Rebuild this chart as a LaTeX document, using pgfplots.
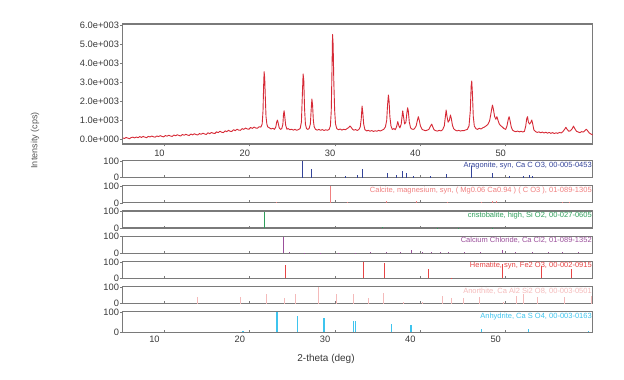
\documentclass[border=0pt]{standalone}
\usepackage{fontspec}
\setmainfont{Liberation Sans}
\usepackage{pgfplots}
\pgfplotsset{compat=1.18}

\definecolor{framec}{HTML}{7A7A7A}
\definecolor{tickc}{HTML}{383838}
\definecolor{xrd}{HTML}{D62A36}
\definecolor{arag}{HTML}{34449A}
\definecolor{calc}{HTML}{F08080}
\definecolor{cris}{HTML}{2E9E5A}
\definecolor{cacl}{HTML}{9B4F9B}
\definecolor{hema}{HTML}{E64545}
\definecolor{anor}{HTML}{F4BABA}
\definecolor{anhy}{HTML}{3EC4EE}

\tikzset{plab/.style={anchor=north east, inner sep=0.8pt, font=\fontsize{7.5}{8}\selectfont}}
\pgfplotsset{
 base/.style={scale only axis, anchor=south west, width=470pt,
   axis line style={framec, line width=1.2pt},
   xmin=5.1, xmax=60.2, xtick={10,20,30,40,50},
   tick style={framec, line width=0.6pt}, major tick length=2.5pt, tick align=outside,
   ticklabel style={font=\fontsize{9.3}{10}\selectfont, text=tickc},
   /pgf/number format/assume math mode=true,
   xtick pos=bottom, ytick pos=left},
 panel/.style={base, ymin=0, ymax=103, ytick={0,100}, xticklabels={}, height=17pt,
   xtick align=inside, yticklabel style={inner sep=1pt}},
 stick/.style={ycomb, line width=1pt, mark=none},
}

\begin{document}
\begin{tikzpicture}
\path[use as bounding box] (0pt,0pt) rectangle (624pt,380pt);

% ---------- measured pattern ----------
\begin{axis}[base, at={(122.7pt,236pt)}, height=120pt,
  ymin=-250, ymax=6070, ytick={0,1000,2000,3000,4000,5000,6000},
  yticklabels={0.0e+000,1.0e+003,2.0e+003,3.0e+003,4.0e+003,5.0e+003,6.0e+003},
  yticklabel style={inner sep=1pt}, xticklabel style={xshift=-5pt}]
\addplot[xrd, line width=0.9pt, mark=none, line join=round] coordinates {
(5.1,70)(5.3,40)(5.5,95)(5.7,60)(5.9,30)(6.1,90)(6.3,110)(6.5,70)(6.7,120)(6.9,80)
(7.1,140)(7.3,95)(7.5,150)(7.7,110)(7.9,85)(8.1,150)(8.3,120)(8.5,170)(8.7,130)(8.9,110)
(9.1,175)(9.3,140)(9.5,190)(9.7,150)(9.9,125)(10.1,195)(10.3,160)(10.5,210)(10.7,170)(10.9,150)
(11.1,220)(11.3,180)(11.5,235)(11.7,200)(11.9,170)(12.1,250)(12.3,210)(12.5,260)(12.7,220)(12.9,200)
(13.1,275)(13.3,230)(13.5,290)(13.7,245)(13.9,225)(14.1,300)(14.3,260)(14.5,320)(14.7,280)(14.9,250)
(15.1,340)(15.3,290)(15.5,360)(15.7,320)(15.9,300)(16.1,390)(16.3,350)(16.5,420)(16.7,370)(16.9,350)
(17.1,440)(17.3,400)(17.5,470)(17.7,420)(17.9,410)(18.1,500)(18.3,450)(18.5,530)(18.7,480)(18.9,470)
(19.1,560)(19.3,520)(19.5,590)(19.7,540)(19.9,530)(20.1,620)(20.3,570)(20.5,640)(20.7,590)(20.9,580)
(21.1,660)(21.3,640)(21.45,800)(21.55,1500)(21.62,2800)(21.68,3560)(21.75,3200)(21.82,2200)(21.9,1200)(22.0,800)
(22.1,650)(22.3,600)(22.5,540)(22.7,580)(22.9,520)(23.05,650)(23.15,900)(23.24,1010)(23.33,850)(23.45,600)
(23.6,520)(23.75,560)(23.88,800)(23.95,1300)(24.02,1500)(24.1,1200)(24.2,750)(24.35,530)(24.5,560)(24.7,500)
(24.9,530)(25.1,480)(25.3,520)(25.5,470)(25.7,510)(25.9,560)(26.05,900)(26.15,2200)(26.25,3440)(26.33,3100)
(26.42,1600)(26.52,800)(26.65,560)(26.8,520)(26.95,560)(27.1,800)(27.2,1600)(27.28,2120)(27.36,1800)(27.45,1000)
(27.55,650)(27.7,520)(27.9,480)(28.1,520)(28.3,470)(28.5,510)(28.7,460)(28.9,500)(29.1,470)(29.3,520)
(29.45,700)(29.55,1500)(29.63,3500)(29.7,5520)(29.77,5000)(29.85,3000)(29.95,1500)(30.05,800)(30.2,560)(30.4,500)
(30.6,540)(30.8,480)(31.0,530)(31.2,500)(31.4,560)(31.6,620)(31.75,700)(31.9,620)(32.05,520)(32.2,480)
(32.4,510)(32.6,460)(32.8,520)(32.95,650)(33.07,1100)(33.16,1750)(33.25,1400)(33.35,800)(33.5,500)(33.7,440)
(33.9,470)(34.1,420)(34.3,460)(34.5,410)(34.7,450)(34.9,420)(35.1,470)(35.3,430)(35.5,480)(35.7,520)
(35.9,650)(36.05,1000)(36.15,1800)(36.25,2330)(36.33,2000)(36.42,1200)(36.55,700)(36.7,520)(36.9,560)(37.05,500)
(37.2,650)(37.35,930)(37.48,700)(37.6,600)(37.75,800)(37.85,1200)(37.93,1500)(38.02,1200)(38.15,800)(38.3,900)
(38.42,1400)(38.5,1660)(38.58,1500)(38.7,900)(38.85,600)(39.0,540)(39.15,520)(39.3,550)(39.5,700)(39.65,1000)
(39.76,1190)(39.87,1000)(40.0,700)(40.2,520)(40.4,480)(40.6,450)(40.8,480)(41.0,520)(41.2,700)(41.33,800)
(41.45,650)(41.6,500)(41.8,450)(42.0,430)(42.2,470)(42.4,440)(42.6,500)(42.8,700)(42.93,1200)(43.02,1540)
(43.12,1200)(43.25,900)(43.4,1000)(43.52,1280)(43.62,1100)(43.75,750)(43.9,550)(44.1,480)(44.3,440)(44.5,470)
(44.7,430)(44.9,460)(45.1,450)(45.3,490)(45.5,520)(45.7,700)(45.85,1500)(45.95,2800)(46.02,3070)(46.1,2400)
(46.2,1200)(46.32,700)(46.5,560)(46.7,520)(46.9,580)(47.1,540)(47.3,600)(47.5,640)(47.7,700)(47.9,780)
(48.1,950)(48.25,1300)(48.38,1650)(48.45,1800)(48.55,1600)(48.7,1200)(48.85,1050)(48.97,1190)(49.1,1000)(49.25,800)
(49.4,720)(49.6,650)(49.8,560)(50.0,520)(50.15,700)(50.3,1050)(50.4,1190)(50.5,1000)(50.65,650)(50.8,480)
(51.0,420)(51.2,400)(51.4,430)(51.6,390)(51.8,420)(52.0,380)(52.2,420)(52.35,700)(52.47,1100)(52.56,1190)
(52.66,900)(52.8,800)(52.95,900)(53.06,1015)(53.17,800)(53.3,500)(53.5,400)(53.7,360)(53.9,390)(54.1,340)
(54.3,380)(54.5,330)(54.7,370)(54.9,320)(55.1,360)(55.3,310)(55.5,350)(55.7,300)(55.9,340)(56.1,310)
(56.3,360)(56.5,330)(56.7,400)(56.9,520)(57.06,630)(57.2,520)(57.4,420)(57.6,450)(57.8,560)(57.95,690)
(58.1,560)(58.3,420)(58.5,380)(58.7,350)(58.9,400)(59.1,380)(59.3,460)(59.45,525)(59.6,450)(59.8,330)
(60.0,270)(60.2,226)
};
\end{axis}

% ---------- reference patterns ----------
\begin{axis}[panel, at={(122.7pt,202.3pt)}]
\addplot[stick, arag] coordinates {(26.2,100)(27.2,55)(31.2,8)(32.6,15)(33.2,50)(36.15,30)(37.2,18)(37.9,40)(38.4,30)(39.2,8)(41.2,8)(43.1,22)(46.0,70)(48.5,30)(50.4,12)(52.1,12)(52.8,15)(53.1,10)};
\node[plab, text=arag] at (rel axis cs:1,1) {Aragonite, syn, Ca C O3, 00-005-0453};
\end{axis}

\begin{axis}[panel, at={(122.7pt,177.1pt)}]
\addplot[stick, calc] coordinates {(23.1,8)(29.5,100)(31.5,3)(36.0,10)(39.5,12)(43.2,8)(47.2,6)(48.5,10)(48.9,10)(56.7,5)(57.5,4)};
\node[plab, text=calc] at (rel axis cs:1,1) {Calcite, magnesium, syn, ( Mg0.06 Ca0.94 ) ( C O3 ), 01-089-1305};
\end{axis}

\begin{axis}[panel, at={(122.7pt,151.9pt)}]
\addplot[stick, cris] coordinates {(21.7,100)(35.6,8)(42.0,3)(44.5,3)(48.5,3)};
\node[plab, text=cris] at (rel axis cs:1,1) {cristobalite, high, Si O2, 00-027-0605};
\end{axis}

\begin{axis}[panel, at={(122.7pt,126.7pt)}]
\addplot[stick, cacl] coordinates {(23.9,100)(24.6,5)(26.4,4)(28.3,3)(30.4,4)(32.4,4)(34.1,5)(36.0,5)(37.7,6)(39.0,18)(40.2,8)(41.3,10)(42.3,6)(43.3,8)(45.2,6)(47.1,5)(49.6,18)(51.2,6)(53.1,6)(55.0,5)(56.7,6)(58.5,5)};
\node[plab, text=cacl] at (rel axis cs:1,1) {Calcium Chloride, Ca Cl2, 01-089-1352};
\end{axis}

\begin{axis}[panel, at={(122.7pt,101.5pt)}]
\addplot[stick, hema] coordinates {(24.2,80)(33.3,100)(35.8,96)(41.0,58)(43.6,5)(49.6,85)(54.2,78)(57.7,55)};
\node[plab, text=hema] at (rel axis cs:1,1) {Hematite, syn, Fe2 O3, 00-002-0915};
\end{axis}

\begin{axis}[panel, at={(122.7pt,76.3pt)}]
\addplot[stick, anor] coordinates {(13.9,38)(18.9,38)(22.0,58)(24.1,36)(25.3,58)(28.0,100)(30.2,58)(32.1,58)(33.9,37)(35.7,65)(38.0,10)(40.3,10)(42.6,46)(43.7,37)(45.0,37)(46.9,38)(49.7,10)(51.3,46)(52.1,58)(53.75,38)(56.95,38)(60.1,45)};
\node[plab, text=anor] at (rel axis cs:1,1) {Anorthite, Ca Al2 Si2 O8, 00-003-0501};
\end{axis}

\begin{axis}[panel, at={(122.7pt,47.6pt)}, height=20.5pt,
  xticklabels={10,20,30,40,50}, xticklabel style={xshift=-10pt}]
\addplot[stick, anhy, line width=1.2pt] coordinates {(19.2,5)(23.2,100)(25.6,83)(28.7,70)(32.2,57)(32.4,57)(36.6,40)(38.9,37)(47.2,15)(52.65,15)(59.7,8)};
\node[plab, text=anhy] at (rel axis cs:1,1) {Anhydrite, Ca S O4, 00-003-0163};
\end{axis}

\node[rotate=90, font=\fontsize{9}{10}\selectfont, text=tickc!85!white] at (35pt,239.5pt) {Intensity (cps)};
\node[font=\fontsize{10}{11}\selectfont, text=tickc] at (326pt,21pt) {2-theta (deg)};
\end{tikzpicture}
\end{document}
